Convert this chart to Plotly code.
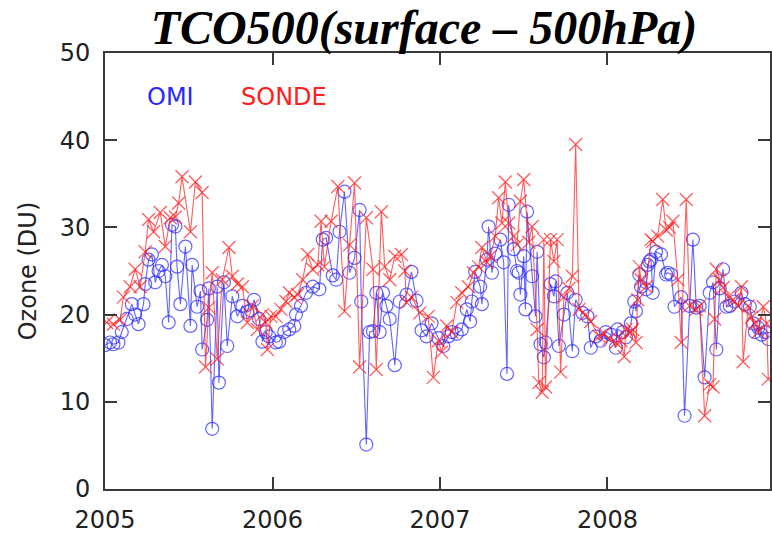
import plotly.graph_objects as go

# OMI (decimal year, DU)
omi_t = [2005.00,2005.03,2005.05,2005.08,2005.10,2005.13,2005.16,2005.18,2005.20,2005.23,2005.24,2005.26,2005.28,2005.30,2005.32,2005.34,2005.36,2005.38,2005.40,2005.42,2005.43,2005.45,2005.48,2005.51,2005.52,2005.55,2005.57,2005.58,2005.61,2005.62,2005.64,2005.67,2005.68,2005.71,2005.73,2005.76,2005.79,2005.82,2005.85,2005.87,2005.89,2005.92,2005.94,2005.96,2005.98,
         2006.02,2006.04,2006.07,2006.10,2006.13,2006.14,2006.17,2006.20,2006.24,2006.28,2006.30,2006.32,2006.36,2006.38,2006.40,2006.43,2006.46,2006.49,2006.52,2006.53,2006.56,2006.58,2006.60,2006.62,2006.64,2006.66,2006.68,2006.70,2006.73,2006.76,2006.80,2006.83,2006.86,2006.89,2006.92,2006.95,2006.99,
         2007.02,2007.05,2007.07,2007.10,2007.13,2007.16,2007.18,2007.19,2007.21,2007.24,2007.25,2007.28,2007.29,2007.31,2007.33,2007.36,2007.38,2007.40,2007.41,2007.44,2007.46,2007.47,2007.48,2007.50,2007.51,2007.52,2007.55,2007.57,2007.58,2007.60,2007.62,2007.63,2007.66,2007.68,2007.69,2007.71,2007.74,2007.76,2007.79,2007.81,2007.85,2007.88,2007.90,2007.93,2007.96,2007.99,
         2008.02,2008.05,2008.06,2008.09,2008.11,2008.14,2008.16,2008.17,2008.19,2008.20,2008.23,2008.24,2008.25,2008.26,2008.27,2008.29,2008.32,2008.35,2008.36,2008.38,2008.40,2008.44,2008.46,2008.49,2008.51,2008.53,2008.55,2008.58,2008.61,2008.63,2008.65,2008.67,2008.69,2008.71,2008.73,2008.76,2008.80,2008.82,2008.85,2008.87,2008.88,2008.90,2008.92,2008.94,2008.96]
omi_v = [16.5,16.8,16.6,16.8,18.0,19.5,21.2,20.0,18.9,21.2,23.5,26.3,26.9,23.7,25.0,25.7,24.4,19.1,30.3,30.1,25.5,21.2,27.8,18.7,25.7,20.9,22.7,16.0,19.4,23.0,6.9,23.2,12.2,23.7,16.4,22.1,19.8,21.0,20.3,20.5,21.7,19.5,16.9,18.0,17.5,
         16.8,16.9,18.0,18.3,18.7,20.0,21.0,22.5,23.2,22.9,28.6,28.8,24.5,24.0,29.5,34.1,24.8,26.5,32.0,21.5,5.1,18.0,18.1,22.5,18.0,22.5,21.0,19.5,14.2,21.5,22.3,24.9,21.6,18.2,17.5,19.0,17.3,
         16.4,17.5,18.0,17.8,18.3,20.6,19.2,21.5,24.9,23.2,21.2,26.3,30.1,24.8,27.0,28.6,26.0,13.2,32.6,27.5,25.0,24.8,22.3,26.7,20.6,31.8,24.4,19.8,27.2,16.6,15.1,16.8,23.5,22.1,23.8,16.4,20.0,22.5,15.8,21.7,20.2,19.8,16.2,17.5,17.0,18.0,
         17.7,16.2,18.3,18.0,17.4,19.0,21.5,20.4,24.6,23.2,22.9,25.7,26.1,26.3,22.5,27.2,26.9,24.6,24.8,24.6,20.9,22.0,8.4,21.0,28.6,20.8,21.0,12.8,22.5,23.7,16.0,23.0,25.2,20.9,21.0,21.5,22.5,21.2,20.9,19.0,18.0,18.5,17.7,18.0,17.2]

# SONDE (decimal year, DU)
sonde_t = [2005.01,2005.05,2005.09,2005.11,2005.15,2005.18,2005.21,2005.24,2005.26,2005.29,2005.33,2005.36,2005.39,2005.42,2005.44,2005.46,2005.51,2005.54,2005.58,2005.60,2005.62,2005.64,2005.67,2005.70,2005.74,2005.76,2005.79,2005.82,2005.85,2005.88,2005.91,2005.94,2005.96,2005.97,2005.99,
           2006.02,2006.05,2006.08,2006.10,2006.13,2006.15,2006.18,2006.21,2006.24,2006.27,2006.29,2006.31,2006.35,2006.39,2006.43,2006.46,2006.49,2006.52,2006.56,2006.60,2006.62,2006.65,2006.67,2006.70,2006.73,2006.77,2006.79,2006.80,2006.83,2006.88,2006.93,2006.96,2006.99,
           2007.01,2007.04,2007.07,2007.10,2007.13,2007.17,2007.20,2007.23,2007.25,2007.28,2007.30,2007.33,2007.35,2007.37,2007.39,2007.41,2007.44,2007.46,2007.48,2007.50,2007.53,2007.55,2007.58,2007.59,2007.61,2007.62,2007.63,2007.66,2007.68,2007.70,2007.72,2007.74,2007.77,2007.79,2007.81,2007.83,2007.87,2007.90,2007.95,2007.98,
           2008.01,2008.05,2008.08,2008.10,2008.11,2008.14,2008.15,2008.17,2008.18,2008.19,2008.20,2008.23,2008.26,2008.27,2008.30,2008.33,2008.35,2008.37,2008.39,2008.42,2008.44,2008.47,2008.49,2008.53,2008.55,2008.58,2008.61,2008.63,2008.64,2008.65,2008.67,2008.69,2008.72,2008.75,2008.78,2008.80,2008.81,2008.84,2008.86,2008.88,2008.90,2008.93,2008.95,2008.96]
sonde_v = [19.1,18.9,19.4,22.0,23.2,25.2,23.2,27.2,30.9,29.5,31.7,27.8,31.1,31.2,32.8,35.8,29.5,35.2,34.0,14.0,20.8,24.8,14.9,24.0,27.7,24.4,23.5,23.2,19.1,21.0,18.3,20.0,19.1,16.0,19.8,
           19.8,20.6,21.5,22.5,22.0,22.3,24.0,26.9,25.2,25.7,30.7,25.5,30.7,34.7,20.4,28.0,35.1,14.0,31.1,25.2,13.7,31.8,25.5,24.0,26.7,26.9,25.0,21.4,22.0,20.2,19.8,12.8,17.0,
           15.7,18.7,18.0,21.4,22.5,23.2,24.8,25.5,27.7,26.0,26.7,29.0,33.4,30.5,35.2,30.5,29.0,28.0,33.0,35.5,28.3,30.1,18.3,12.2,11.1,28.6,11.7,28.6,26.1,28.6,13.4,22.0,23.0,24.4,39.5,20.6,20.0,19.2,17.5,17.8,
           17.2,16.8,17.0,15.2,18.3,18.0,18.3,16.8,21.7,25.5,24.0,23.2,28.6,28.4,29.0,33.2,29.7,30.0,30.7,24.0,16.8,33.2,21.0,20.6,21.0,8.4,12.0,11.7,19.5,25.2,24.0,23.1,22.0,21.7,21.0,23.2,14.6,21.0,19.7,19.0,18.0,20.9,19.0,12.6]

year_ticks = [2005, 2006, 2007, 2008]
y_ticks = [0, 10, 20, 30, 40, 50]

BLUE = "rgba(40,40,255,0.72)"
RED = "rgba(255,30,30,0.72)"
AX = "#3a3a3a"
FONT = "DejaVu Sans"

fig = go.Figure()
fig.add_trace(go.Scatter(x=omi_t, y=omi_v, mode="lines+markers", name="OMI",
                         line=dict(color=BLUE, width=1.1),
                         marker=dict(symbol="circle-open", size=13, color=BLUE, line=dict(width=1.2))))
fig.add_trace(go.Scatter(x=sonde_t, y=sonde_v, mode="lines+markers", name="SONDE",
                         line=dict(color=RED, width=1.1),
                         marker=dict(symbol="x-thin-open", size=13, color=RED, line=dict(width=1.3, color=RED))))

fig.add_annotation(text="OMI", x=0.06, y=0.90, xref="paper", yref="paper", xanchor="left", yanchor="middle",
                   showarrow=False, font=dict(family=FONT, size=24, color="#2828ff"))
fig.add_annotation(text="SONDE", x=0.202, y=0.90, xref="paper", yref="paper", xanchor="left", yanchor="middle",
                   showarrow=False, font=dict(family=FONT, size=24, color="#ff2020"))

fig.update_layout(
    width=772, height=534,
    margin=dict(l=105, r=0, t=53, b=44),
    paper_bgcolor="white", plot_bgcolor="white",
    showlegend=False,
    title=dict(text="TCO500(surface \u2013 500hPa)", x=424/772, xref="container", xanchor="center",
               y=1-27/534, yref="container", yanchor="middle",
               font=dict(family="Liberation Serif", size=48, color="black", weight="bold", style="italic")),
    font=dict(family=FONT, size=24, color="#222"),
)
fig.update_xaxes(range=[2005, 2005 + (772 - 105) / 168], tickvals=year_ticks, ticktext=[str(y) for y in year_ticks],
                 ticks="inside", ticklen=12, tickwidth=1.5, tickcolor=AX, showline=True, linewidth=2, linecolor=AX,
                 mirror="ticks", showgrid=False, zeroline=False, ticklabelstandoff=8,
                 tickfont=dict(family=FONT, size=24, color="#222"))
fig.update_yaxes(range=[0, 50], tickvals=y_ticks, ticks="inside", ticklen=12, tickwidth=1.5, tickcolor=AX,
                 showline=True, linewidth=2, linecolor=AX, mirror="ticks", showgrid=False, zeroline=False,
                 ticklabelstandoff=8, tickfont=dict(family=FONT, size=24, color="#222"),
                 title=dict(text="Ozone (DU)", font=dict(family=FONT, size=24, color="#222"), standoff=16))

fig.write_html("out.html")
